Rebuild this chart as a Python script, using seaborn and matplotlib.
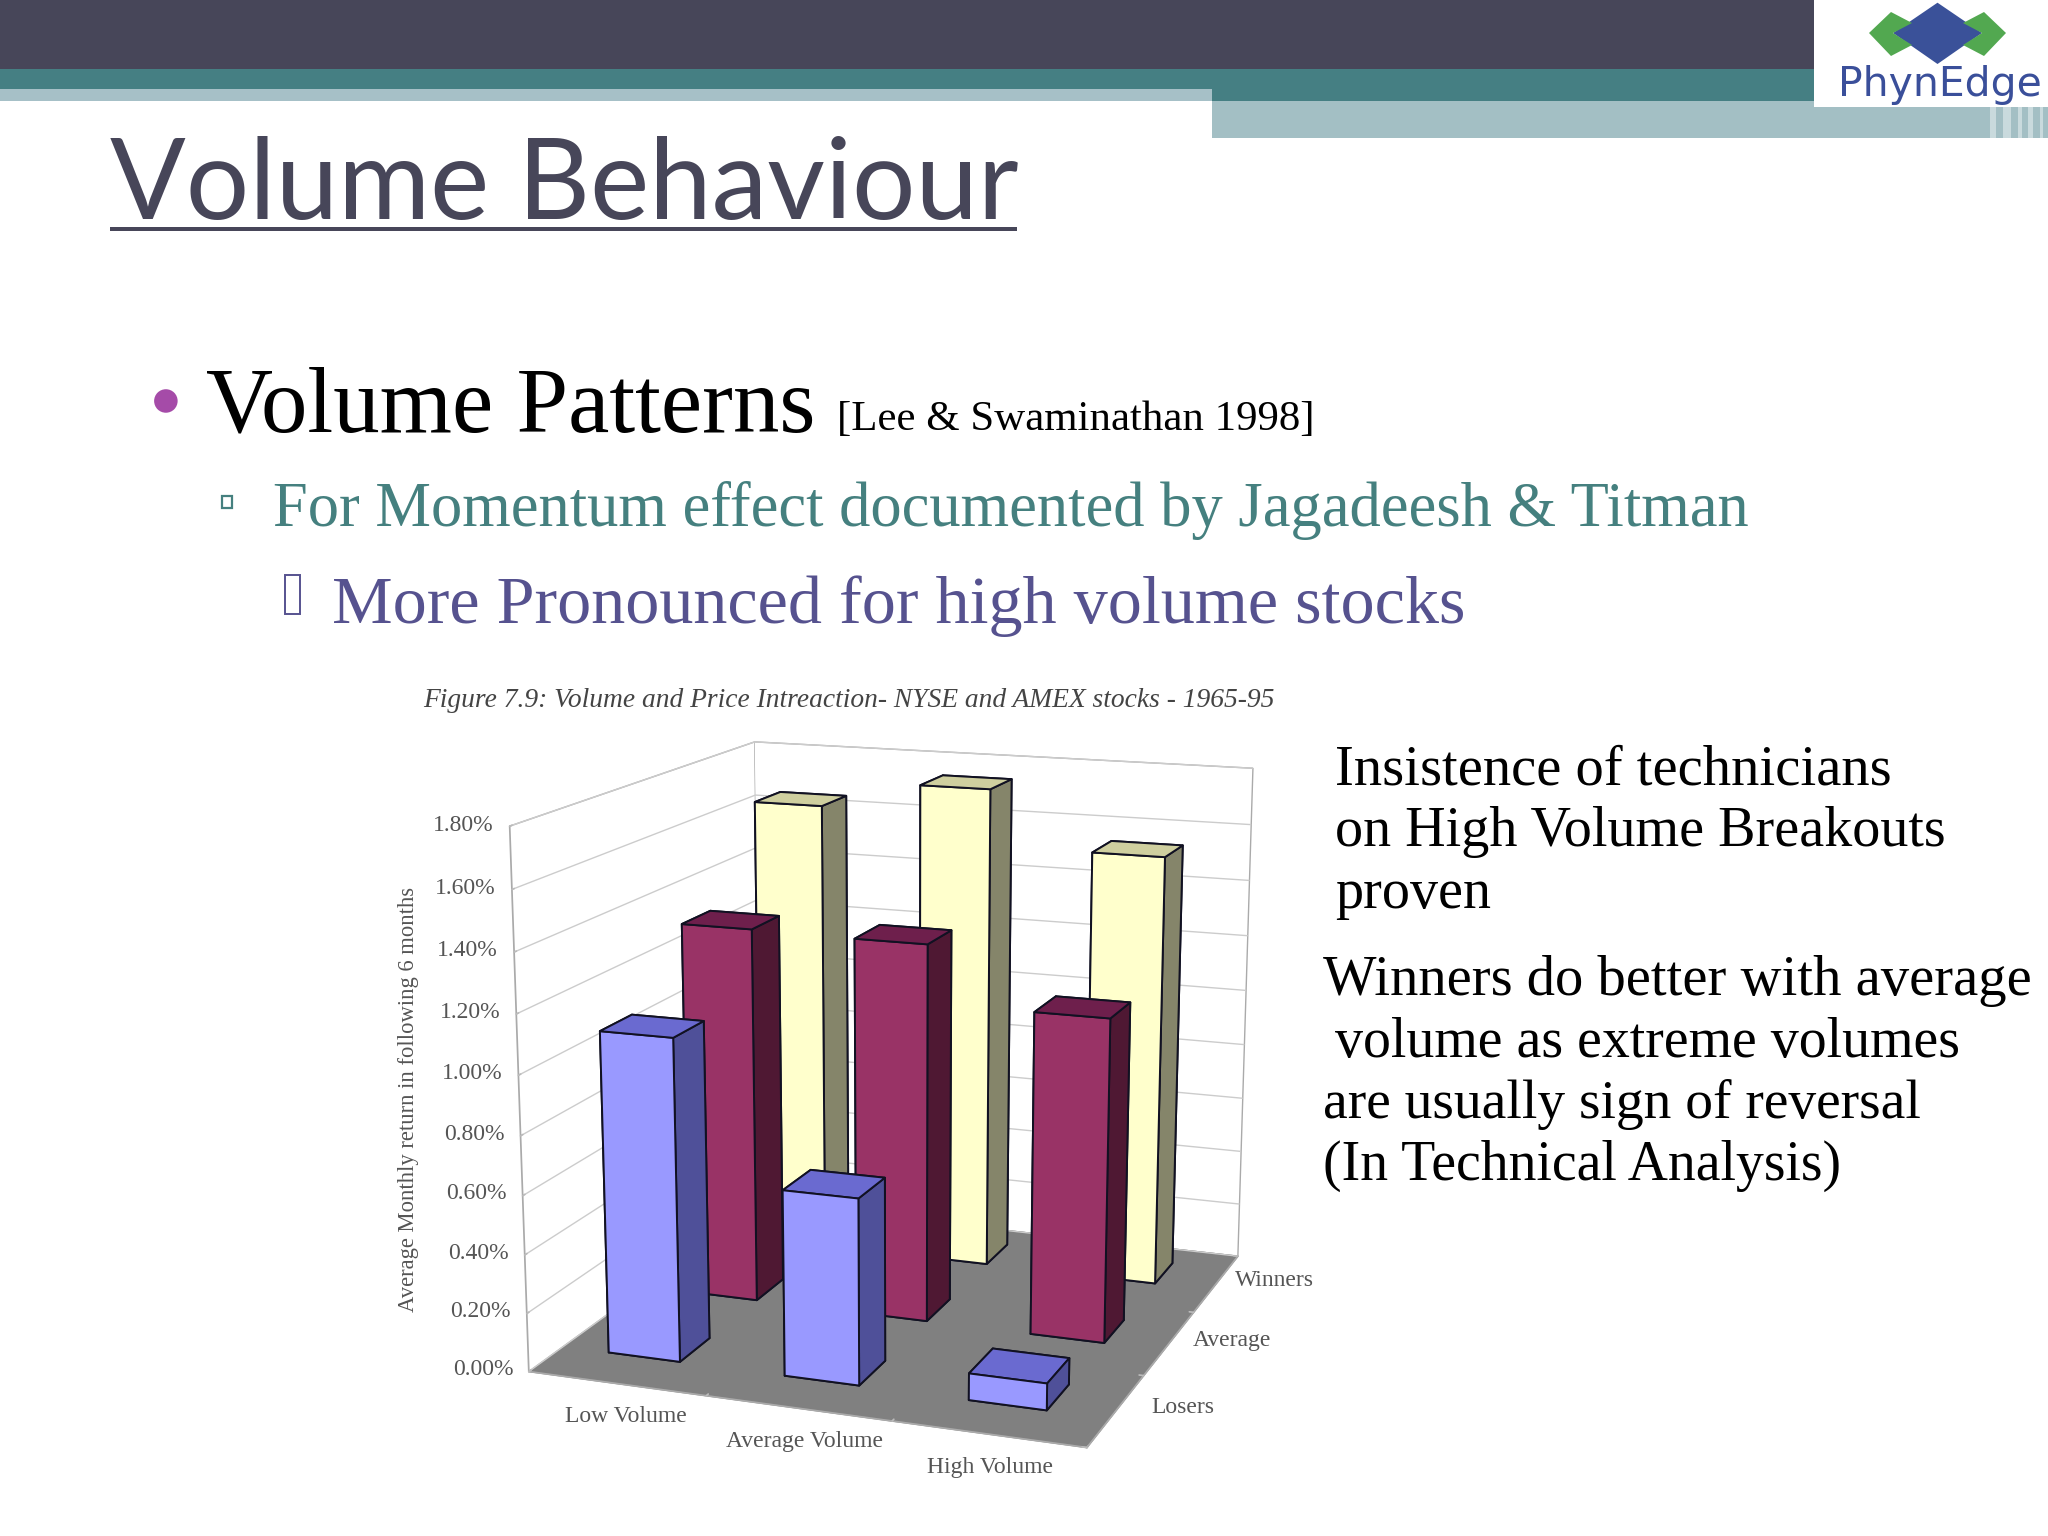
import matplotlib
matplotlib.use("Agg")
import matplotlib.pyplot as plt
from matplotlib.patches import Rectangle, Polygon
from mpl_toolkits.mplot3d import proj3d
import seaborn as sns

volume_labels = ["Low Volume", "Average Volume", "High Volume"]
return_labels = ["Losers", "Average", "Winners"]
losers = [1.10, 0.63, 0.09]
average = [1.325, 1.32, 1.12]
winners = [1.645, 1.74, 1.54]
z_ticks = [0.0, 0.2, 0.4, 0.6, 0.8, 1.0, 1.2, 1.4, 1.6, 1.8]

face_colors = ["#9999FF", "#993366", "#FFFFCC"]
top_colors = ["#6A6AD0", "#6E1F4C", "#CFCF9F"]
side_colors = ["#4F5099", "#4F1833", "#85856A"]

sns.set_theme(style="white")
palette = sns.color_palette(face_colors)

W, H = 2048, 1536
fig = plt.figure(figsize=(W / 100, H / 100), dpi=100, facecolor="white")
bg = fig.add_axes([0, 0, 1, 1], zorder=0)
bg.set_xlim(0, W)
bg.set_ylim(H, 0)
bg.axis("off")
S = 2048 / 1568

def band(x0, y0, x1, y1, c):
    bg.add_patch(Rectangle((x0, y0), x1 - x0, y1 - y0, fc=c, ec="none"))

band(0, 0, W, 69, "#474659")
band(0, 69, W, 101, "#457F83")
band(0, 89, 1212, 101, "#A6C0C7")
band(1212, 101, W, 138, "#A3BFC4")
for xs, ws in [(1990, 6), (2003, 8), (2018, 4), (2028, 5), (2040, 3)]:
    band(xs, 107, xs + ws, 138, "#C9DADD")
band(1814, 0, W, 107, "white")
bg.add_patch(Polygon([(1893, 33), (1937.5, 2.7), (1982, 33), (1937.5, 64)], fc="#3A5199", ec="none"))
bg.add_patch(Polygon([(1869, 33), (1891, 12), (1912, 23), (1893, 33), (1912, 45), (1891, 56)], fc="#52A850", ec="none"))
bg.add_patch(Polygon([(2006, 33), (1984, 12), (1963, 23), (1982, 33), (1963, 45), (1984, 56)], fc="#52A850", ec="none"))

renderer = fig.canvas.get_renderer()

def fit(s, x0, x1, base, color, family="Liberation Serif", **kw):
    t = fig.text(x0 * S / W, 1 - base * S / H, s, color=color, family=family,
                 va="baseline", ha="left", fontsize=40, **kw)
    w = t.get_window_extent(renderer).width
    t.set_fontsize(40 * (x1 - x0) * S / w)
    return t

fit("PhynEdge", 1838 / S, 2041 / S, 96 / S, "#3A4F9A", family="DejaVu Sans")
fit("Volume Behaviour", 84, 779, 168, "#474659", family="Lato")
bg.add_patch(Rectangle((84 * S, 174 * S), 695 * S, 3.2 * S, fc="#474659", ec="none"))
fit("Volume Patterns", 158, 624, 330, "black")
fit("[Lee & Swaminathan 1998]", 641, 1006, 329, "black")
fit("For Momentum effect documented by Jagadeesh & Titman", 209, 1338, 403, "#45807F")
fit("More Pronounced for high volume stocks", 254, 1121, 477, "#56528F")
bg.add_patch(plt.Circle((127 * S, 307 * S), 9 * S, fc="#A54BA8", ec="none"))
bg.add_patch(Rectangle((170 * S, 380 * S), 8 * S, 9 * S, fc="none", ec="#45807F", lw=1.6))
bg.add_patch(Rectangle((218.5 * S, 440 * S), 11 * S, 30 * S, fc="none", ec="#56528F", lw=1.4))
right_lines = [
    ("Insistence of technicians", 1022, 1447, 601),
    ("on High Volume Breakouts", 1022, 1489, 648),
    ("proven", 1022, 1141, 695),
    ("Winners do better with average", 1013, 1554, 762),
    ("volume as extreme volumes", 1022, 1500, 809),
    ("are usually sign of reversal", 1013, 1470, 856),
    ("(In Technical Analysis)", 1013, 1410, 903),
]
for s, a, b, y in right_lines:
    fit(s, a, b, y, "black")
fit("Figure 7.9: Volume and Price Intreaction- NYSE and AMEX stocks - 1965-95",
    324, 975, 541, "#444444", style="italic")
fig.text(313 * S / W, 1 - 842 * S / H, "Average Monthly return in following 6 months",
         rotation=90, ha="center", va="center", family="Liberation Serif", fontsize=16.3, color="#555555")

ax = fig.add_axes([0.1443, -0.0489, 0.58, 0.70], projection="3d", zorder=1)
ax.patch.set_alpha(0)
ax.computed_zorder = False
ax.set_proj_type("persp", focal_length=0.49)
ax.view_init(elev=14.5, azim=-70)
ax.set_box_aspect((1, 1.03, 0.95), zoom=0.87)
ax.set_xlim(0, 3, view_margin=0)
ax.set_ylim(0, 3, view_margin=0)
ax.set_zlim(0, 1.8, view_margin=0)

series = [losers, average, winners]
bw, bd = 0.41, 0.37
z = 10
for j in [2, 1, 0]:
    for i in range(3):
        faces = [top_colors[j], top_colors[j], palette[j], palette[j], side_colors[j], side_colors[j]]
        ax.bar3d(i + 0.47 - bw / 2, j + 0.57 - bd / 2, 0, bw, bd, series[j][i],
                 color=faces, shade=False, edgecolor="#111122", linewidth=1.4, zorder=z)
        z += 1

ax.set_xticks([0, 1, 2, 3])
ax.set_yticks([0, 1, 2, 3])
ax.set_zticks(z_ticks)
ax.zaxis.set_ticks_position("lower")
label_kw = dict(family="Liberation Serif", fontsize=17, color="#555555", zorder=50, va="center")
M = ax.get_proj()

def label3d(x, y, zv, s, ha):
    px, py, _ = proj3d.proj_transform(x, y, zv, M)
    ax.text2D(px, py, s, transform=ax.transData, ha=ha, clip_on=False, **label_kw)

for i, s in enumerate(volume_labels):
    label3d(0.74 + i * 0.95, -0.38, 0, s, "center")
for j, s in enumerate(return_labels):
    label3d(3.3, j + 0.65, 0, s, "center")
for v in z_ticks:
    label3d(-0.09, 0, v, f"{v:.2f}%", "right")
for a in (ax.xaxis, ax.yaxis, ax.zaxis):
    a.set_tick_params(label1On=False, label2On=False, color="#BBBBBB")
    a.line.set_color("#AAAAAA")
    a._axinfo["tick"].update(color="#BBBBBB", inward_factor=0.0, outward_factor=0.1)
    a.label.set_visible(False)
    a.offsetText.set_visible(False)
ax.xaxis.set_pane_color("white")
ax.yaxis.set_pane_color("white")
ax.zaxis.set_pane_color("#808080")
for a in (ax.xaxis, ax.yaxis):
    a.pane.set_edgecolor("#AAAAAA")
    a._axinfo["grid"].update(color=(1, 1, 1, 0), linewidth=0)
ax.zaxis.pane.set_edgecolor("#808080")
ax.zaxis._axinfo["grid"].update(color="#CCCCCC", linewidth=1.0)
ax.grid(True)

fig.savefig("out.png", dpi=100)
